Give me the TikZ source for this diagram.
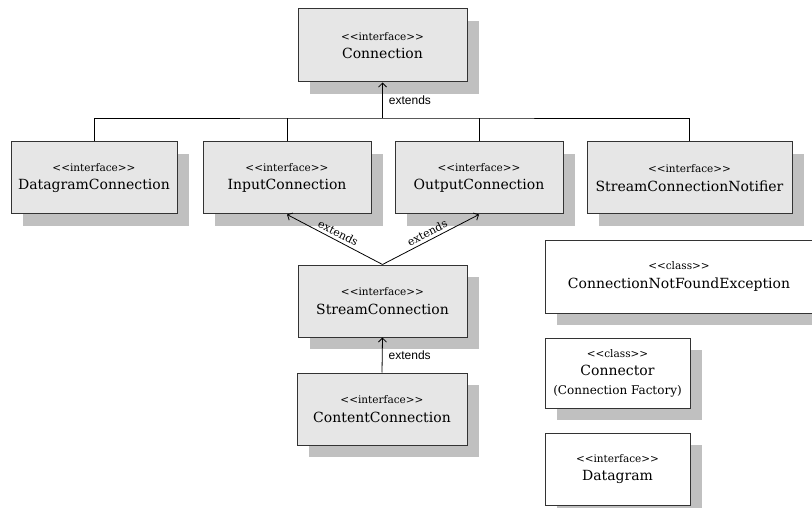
\documentclass[tikz,border=0pt]{standalone}
\usepackage{fontspec}
\setmainfont{DejaVu Serif}
\setsansfont{Liberation Sans}
\usetikzlibrary{shadows,arrows.meta}
\definecolor{boxfill}{HTML}{E6E6E6}
\definecolor{shadowgray}{HTML}{C0C0C0}
\definecolor{edgecol}{HTML}{333333}
\newcommand\stereo[1]{{\fontsize{10.5}{18}\selectfont <\kern0pt<#1>\kern0pt>}}
\begin{document}
\begin{tikzpicture}[x=1pt,y=-1pt,
  umlbox/.style={draw=edgecol, line width=1pt, fill=boxfill, align=center, inner sep=0pt,
    general shadow={fill=shadowgray, shadow xshift=12pt, shadow yshift=-12pt},
    font=\fontsize{14}{18.5}\selectfont},
  whitebox/.style={umlbox, fill=white},
  conn/.style={draw=black, line width=0.8pt},
  arr/.style={conn, -{Straight Barb[length=4pt,width=8pt]}},
  lbl/.style={font=\sffamily\fontsize{12}{14}\selectfont, inner sep=2pt},
  slbl/.style={font=\fontsize{11}{13}\selectfont, inner sep=3pt}
]
\path[use as bounding box, clip] (0,0) rectangle (812,508);
\fill[white] (0,0) rectangle (812,508);

\node[umlbox, minimum width=169pt, minimum height=73pt] (conn) at (382.5,45.5) {\stereo{interface}\\Connection};
\node[umlbox, minimum width=166pt, minimum height=72pt] (dg) at (94,178) {\stereo{interface}\\DatagramConnection};
\node[umlbox, minimum width=168pt, minimum height=72pt] (inp) at (287,178) {\stereo{interface}\\InputConnection};
\node[umlbox, minimum width=168pt, minimum height=72pt] (out) at (479,178) {\stereo{interface}\\OutputConnection};
\node[umlbox, minimum width=205pt, minimum height=72pt] (scn) at (689.5,178) {\stereo{interface}\\StreamConnectionNotifier};
\node[umlbox, minimum width=169pt, minimum height=72pt] (sc) at (382.5,301) {\stereo{interface}\\StreamConnection};
\node[umlbox, minimum width=170pt, minimum height=72pt] (cc) at (382,409) {\stereo{interface}\\ContentConnection};
\node[whitebox, minimum width=268pt, minimum height=73pt] (cnfe) at (679,276.5) {\stereo{class}\\ConnectionNotFoundException};
\node[whitebox, minimum width=145pt, minimum height=70pt] (ctr) at (617.5,373) {\stereo{class}\\Connector\\{\fontsize{12}{18.5}\selectfont (Connection Factory)}};
\node[whitebox, minimum width=145pt, minimum height=72pt] (dgm) at (617.5,469) {\stereo{interface}\\Datagram};

\coordinate (bus) at (382.5,118);
\draw[arr] (bus) -- node[lbl, right, xshift=4pt] {extends} (conn.south);
\draw[conn] (dg.north) |- (bus) -| (scn.north);
\draw[conn] (inp.north) -- (inp.north |- bus);
\draw[conn] (out.north) -- (out.north |- bus);
\draw[arr] (sc.north) -- node[slbl, sloped, above] {extends} (inp.south);
\draw[arr] (sc.north) -- node[slbl, sloped, above] {extends} (out.south);
\draw[arr] (cc.north) -- node[lbl, right, xshift=4pt] {extends} (sc.south);
\end{tikzpicture}
\end{document}
